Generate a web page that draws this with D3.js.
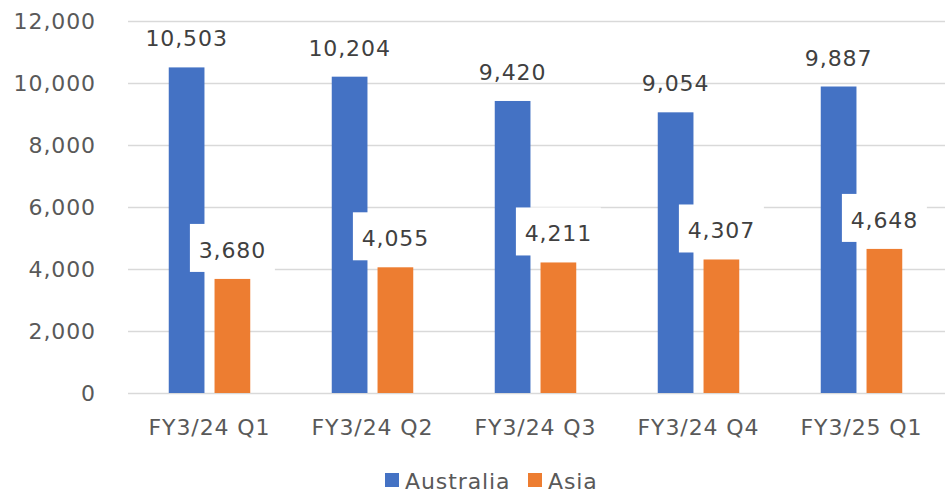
<!DOCTYPE html>
<html>
<head>
<meta charset="utf-8">
<script src="https://cdn.jsdelivr.net/npm/d3@7"></script>
<style>
  html, body { margin: 0; padding: 0; background: #fff; }
  svg { display: block; font-family: "DejaVu Sans", Verdana, sans-serif; }
  svg text { letter-spacing: 0.9px; }
</style>
</head>
<body>
<svg id="chart" width="949" height="496"></svg>
<script>
// Quarterly figures by region
const categories = ["FY3/24 Q1", "FY3/24 Q2", "FY3/24 Q3", "FY3/24 Q4", "FY3/25 Q1"];
const seriesNames = ["Australia", "Asia"];
const australia = [10503, 10204, 9420, 9054, 9887];
const asia = [3680, 4055, 4211, 4307, 4648];
const yTicks = [0, 2000, 4000, 6000, 8000, 10000, 12000];
const colors = ["#4472C4", "#ED7D31"];

const seriesValues = [australia, asia];
const rows = categories.map((c, i) => ({
  category: c,
  values: seriesNames.map((s, k) => ({ series: s, k, value: seriesValues[k][i] }))
}));

const svg = d3.select("#chart");
const plotLeft = 128, plotRight = 943, plotTop = 21, plotBottom = 393;

const x0 = d3.scaleBand().domain(categories).range([plotLeft, plotRight])
  .paddingInner(0.5).paddingOuter(0.25);
const x1 = d3.scaleBand().domain(seriesNames).range([0, x0.bandwidth()])
  .paddingInner(0.22);
const y = d3.scaleLinear().domain([0, 12000]).range([plotBottom, plotTop]);
const fmt = d3.format(",");

// Gridlines
svg.append("g")
  .selectAll("line").data(yTicks).join("line")
  .attr("x1", plotLeft).attr("x2", 945)
  .attr("y1", d => Math.round(y(d)) + 0.5).attr("y2", d => Math.round(y(d)) + 0.5)
  .attr("stroke", "#D9D9D9").attr("stroke-width", 1.5);

// Y axis labels
const yAxis = d3.axisLeft(y).tickValues(yTicks).tickFormat(fmt).tickSize(0).tickPadding(0);
svg.append("g").attr("transform", `translate(96,0)`).call(yAxis)
  .call(g => g.select(".domain").remove())
  .call(g => g.selectAll("text")
    .attr("fill", "#595959").attr("font-size", 22)
    .attr("font-family", "DejaVu Sans, Verdana, sans-serif"));

// X axis labels
const xAxis = d3.axisBottom(x0).tickSize(0).tickPadding(0);
svg.append("g").attr("transform", `translate(0,${plotBottom})`).call(xAxis)
  .call(g => g.select(".domain").remove())
  .call(g => g.selectAll("text")
    .attr("dy", null).attr("y", 42)
    .attr("fill", "#595959").attr("font-size", 22)
    .attr("font-family", "DejaVu Sans, Verdana, sans-serif"));

// Bars
const groups = svg.append("g").selectAll("g").data(rows).join("g")
  .attr("transform", d => `translate(${x0(d.category)},0)`);

groups.selectAll("rect").data(d => d.values).join("rect")
  .attr("x", d => x1(d.series))
  .attr("width", x1.bandwidth())
  .attr("y", d => y(d.value))
  .attr("height", d => y(0) - y(d.value))
  .attr("fill", d => colors[d.k]);

// Value labels
const labels = svg.append("g").selectAll("g").data(rows.flatMap(r =>
  r.values.map(v => ({ ...v, cx: x0(r.category) + x1(v.series) + x1.bandwidth() / 2 }))
)).join("g")
  .attr("transform", d => `translate(${d.cx},${y(d.value) - 21})`);

labels.filter(d => d.k === 1).append("rect")
  .attr("x", -42.5).attr("y", -34).attr("width", 85).attr("height", 48)
  .attr("fill", "#fff");

labels.append("text")
  .attr("text-anchor", "middle")
  .attr("fill", "#404040").attr("font-size", 22)
  .text(d => fmt(d.value));

// Legend
const legend = svg.append("g");
const legendItems = [{ name: "Australia", x: 385 }, { name: "Asia", x: 528 }];
legendItems.forEach((it, k) => {
  legend.append("rect").attr("x", it.x).attr("y", 473).attr("width", 14).attr("height", 14)
    .attr("fill", colors[k]);
  legend.append("text").attr("x", it.x + 20).attr("y", 489)
    .attr("fill", "#595959").attr("font-size", 22).text(seriesNames[k]);
});
</script>
</body>
</html>
